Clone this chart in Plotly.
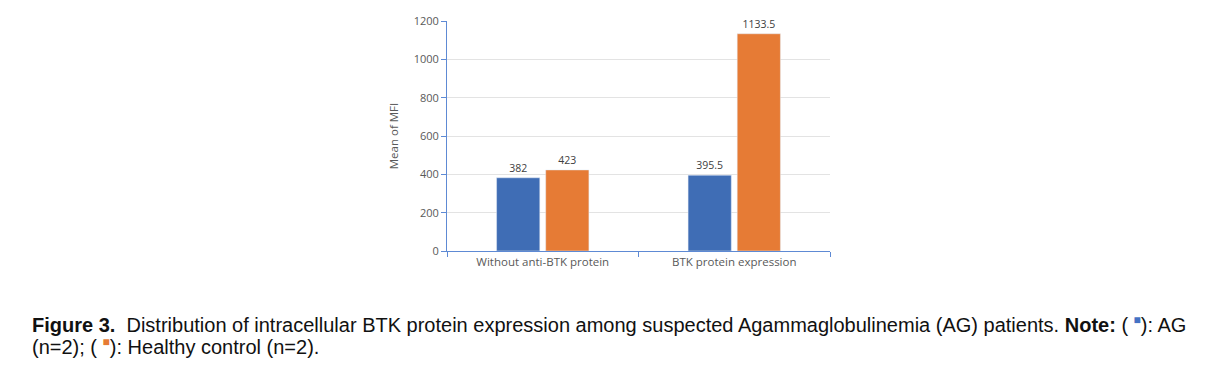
import plotly.graph_objects as go

categories = ["Without anti-BTK protein", "BTK protein expression"]
ag_values = [382, 395.5]
control_values = [423, 1133.5]
ag_labels = ["382", "395.5"]
control_labels = ["423", "1133.5"]
y_ticks = [0, 200, 400, 600, 800, 1000, 1200]

BLUE = "#3F6DB5"
ORANGE = "#E67B35"
AXIS = "#5E8AD4"
GRAY = "#595959"
FONT = "Open Sans"

# page offset: body margin of 8px
L, T, PW, PH = 439, 13, 383, 230

fig = go.Figure()
fig.add_trace(go.Bar(x=categories, y=ag_values, name="AG", marker_color=BLUE,
                     text=ag_labels, textposition="outside", cliponaxis=False,
                     textfont=dict(size=10.5, color="#404040", family=FONT)))
fig.add_trace(go.Bar(x=categories, y=control_values, name="Healthy control", marker_color=ORANGE,
                     text=control_labels, textposition="outside", cliponaxis=False,
                     textfont=dict(size=10.5, color="#404040", family=FONT)))

fig.update_layout(
    width=1224, height=366,
    margin=dict(l=L, r=1224 - L - PW, t=T, b=366 - T - PH, autoexpand=False),
    paper_bgcolor="white", plot_bgcolor="white",
    barmode="group", bargap=0.487, bargroupgap=0.12,
    showlegend=False,
    font=dict(family=FONT, size=11, color=GRAY),
    xaxis=dict(showline=True, linecolor=AXIS, linewidth=1,
               ticks="outside", tickson="boundaries", ticklen=5, tickcolor=AXIS,
               tickfont=dict(size=11.5, color=GRAY, family=FONT), showgrid=False),
    yaxis=dict(range=[0, 1200], tickvals=y_ticks, showline=True, linecolor=AXIS, linewidth=1,
               ticks="outside", ticklen=5, tickcolor=AXIS, gridcolor="#E3E3E3",
               tickfont=dict(size=11, color=GRAY, family=FONT), zeroline=False,
               title=dict(text="Mean of MFI", font=dict(size=11.5, color=GRAY, family=FONT), standoff=12)),
)

def square(color):
    return f"<sup><span style='color:{color};font-size:12px'>■</span></sup>"

line1 = ("<b>Figure 3.</b>  Distribution of intracellular BTK protein expression among suspected "
         "Agammaglobulinemia (AG) patients. <b>Note:</b> ( " + square("#4472C4") + "): AG")
line2 = "(n=2); ( " + square("#E67B35") + "): Healthy control (n=2)."

cap_font = dict(family="Liberation Sans, Arial", size=20, color="#111111")
x0 = (30 - 8 - L) / PW
for txt, py in [(line1, 324 - 8), (line2, 346 - 8)]:
    fig.add_annotation(text=txt, xref="paper", yref="paper", x=x0, y=(T + PH - py) / PH,
                       xanchor="left", yanchor="middle", showarrow=False, align="left",
                       font=cap_font)

fig.write_html("out.html")
